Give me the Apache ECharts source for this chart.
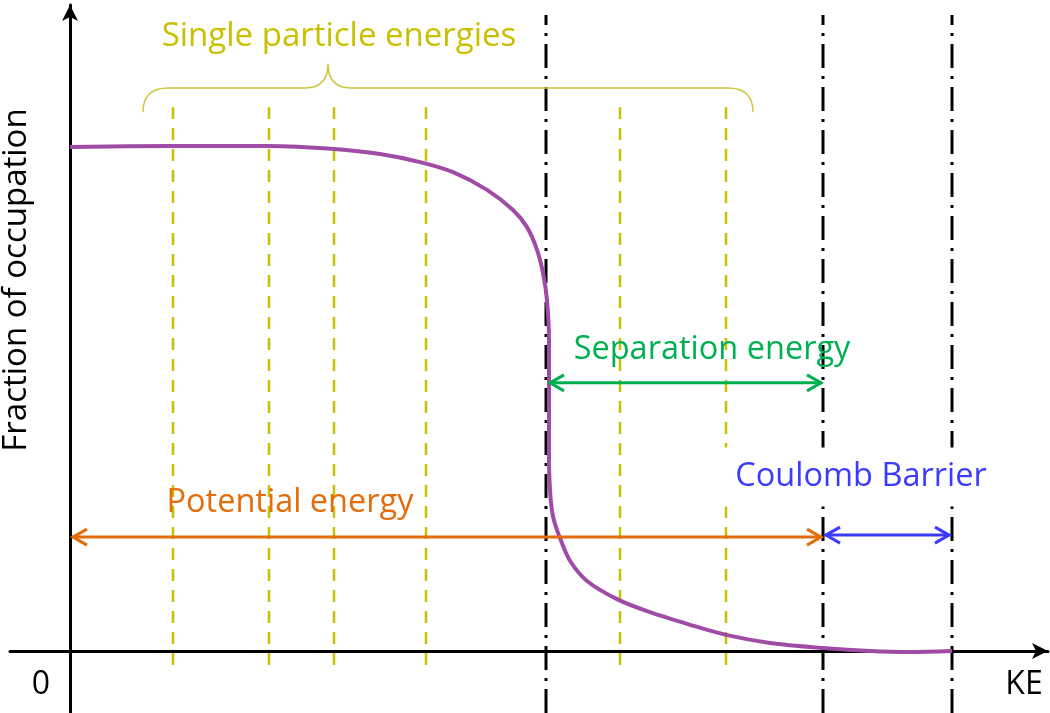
<!DOCTYPE html>
<html>
<head>
<meta charset="utf-8">
<title>Fraction of occupation</title>
<script src="https://cdn.jsdelivr.net/npm/echarts@6/dist/echarts.min.js"></script>
<style>
  html, body { margin: 0; padding: 0; background: #fff; }
  #chart { width: 1050px; height: 713px; }
</style>
</head>
<body>
<div id="chart"></div>
<script>
// occupation curve (KE in arbitrary units, fraction relative to full occupation)
var kePts  = [0, 10.3, 19.9, 26.4, 31, 35, 38.3, 41.7, 44.3, 45.7, 46.7, 47.3, 47.7, 47.9, 47.9, 47.9, 48.0, 48.2, 48.5, 49.0, 50.0, 51.7, 54.7, 58, 62, 65.6, 70, 75.3, 80, 84, 88.2];
var occPts = [1.0, 1.002, 1.002, 0.996, 0.986, 0.970, 0.950, 0.915, 0.875, 0.841, 0.796, 0.750, 0.696, 0.617, 0.498, 0.379, 0.319, 0.278, 0.252, 0.224, 0.179, 0.139, 0.103, 0.077, 0.052, 0.032, 0.016, 0.006, 0, -0.002, 0];

// single particle levels (yellow dashed) and their vertical extent
var spLevels = [10.3, 19.9, 26.4, 35.6, 55.0, 65.6];
var spSpan = [-0.028, 1.079];

// fermi / separation / barrier markers (black dash-dot)
var markLevels = [47.6, 75.3, 88.2];
var markSpan = [-0.123, 1.262];

// double headed arrows
var arrowFrom  = [0.2, 47.9, 75.5];
var arrowTo    = [75.2, 75.2, 88.0];
var arrowAt    = [0.226, 0.532, 0.230];
var arrowColor = ['#e46c0a', '#00b050', '#3b3bff'];

// brace over the single particle levels: left, right, tip, bottom, top, peak
var brace = [7.3, 68.3, 25.8, 1.069, 1.117, 1.165];

var curveData = kePts.map(function (k, i) { return [k, occPts[i]]; });
var spData = spLevels.map(function (k) { return [k, spSpan[0], spSpan[1]]; });
var markData = markLevels.map(function (k) { return [k, markSpan[0], markSpan[1]]; });
var arrowData = arrowFrom.map(function (a, i) { return [a, arrowAt[i], arrowTo[i], i]; });

var FONT = '"Open Sans", "Noto Sans", sans-serif';

function vline(color, dash, width) {
  return function (params, api) {
    var p1 = api.coord([api.value(0), api.value(1)]);
    var p2 = api.coord([api.value(0), api.value(2)]);
    return {
      type: 'line',
      shape: { x1: p1[0], y1: p1[1], x2: p2[0], y2: p2[1] },
      style: { stroke: color, lineWidth: width, lineDash: dash }
    };
  };
}

var chart = echarts.init(document.getElementById('chart'));
chart.setOption({
  animation: false,
  grid: { left: 10, right: 2, top: 5, bottom: 0 },
  xAxis: {
    type: 'value', min: -6, max: 97.8,
    axisLine: { onZero: true, symbol: ['none', 'arrow'], symbolSize: [12, 16], lineStyle: { color: '#000', width: 3 } },
    axisTick: { show: false }, axisLabel: { show: false }, splitLine: { show: false }
  },
  yAxis: {
    type: 'value', min: -0.123, max: 1.2817,
    axisLine: { onZero: true, symbol: ['none', 'arrow'], symbolSize: [12, 16], lineStyle: { color: '#000', width: 3 } },
    axisTick: { show: false }, axisLabel: { show: false }, splitLine: { show: false }
  },
  series: [
    {
      type: 'custom', name: 'levels', z: 2,
      renderItem: vline('#c8c000', [12, 9], 2.5),
      data: spData
    },
    {
      type: 'custom', name: 'markers', z: 2,
      renderItem: vline('#000', [24, 8, 3, 8], 3),
      data: markData
    },
    {
      type: 'line', name: 'occupation', z: 4,
      data: curveData, smooth: 0.3, symbol: 'none',
      lineStyle: { color: '#a04ca6', width: 4 }
    },
    {
      type: 'custom', name: 'arrows', z: 5,
      renderItem: function (params, api) {
        var a = api.coord([api.value(0), api.value(1)]);
        var b = api.coord([api.value(2), api.value(1)]);
        var c = arrowColor[api.value(3)];
        var st = { stroke: c, lineWidth: 3, fill: null };
        return {
          type: 'group',
          children: [
            { type: 'line', shape: { x1: a[0], y1: a[1], x2: b[0], y2: b[1] }, style: st },
            { type: 'polyline', shape: { points: [[a[0] + 15, a[1] - 8], [a[0] + 1, a[1]], [a[0] + 15, a[1] + 8]] }, style: st },
            { type: 'polyline', shape: { points: [[b[0] - 15, b[1] - 8], [b[0] - 1, b[1]], [b[0] - 15, b[1] + 8]] }, style: st }
          ]
        };
      },
      data: arrowData
    },
    {
      type: 'custom', name: 'brace', z: 3,
      renderItem: function (params, api) {
        var l = api.coord([api.value(0), api.value(3)]);
        var r = api.coord([api.value(1), api.value(3)]);
        var t = api.coord([api.value(2), api.value(5)]);
        var yt = api.coord([0, api.value(4)])[1];
        var d = 'M' + l[0] + ',' + l[1] +
          ' Q' + l[0] + ',' + yt + ' ' + (l[0] + 25) + ',' + yt +
          ' L' + (t[0] - 23) + ',' + yt +
          ' Q' + t[0] + ',' + yt + ' ' + t[0] + ',' + t[1] +
          ' Q' + t[0] + ',' + yt + ' ' + (t[0] + 23) + ',' + yt +
          ' L' + (r[0] - 25) + ',' + yt +
          ' Q' + r[0] + ',' + yt + ' ' + r[0] + ',' + r[1];
        return { type: 'path', shape: { pathData: d }, style: { stroke: '#cdc53a', lineWidth: 1.5, fill: null } };
      },
      data: [brace]
    }
  ],
  graphic: [
    { type: 'text', x: 339, y: 37, z: 100, style: { text: 'Single particle energies', fill: '#c8c000', font: '33px ' + FONT, textAlign: 'center', textVerticalAlign: 'middle' } },
    { type: 'text', x: 712, y: 350, z: 100, style: { text: 'Separation energy', fill: '#00b050', font: '32.5px ' + FONT, textAlign: 'center', textVerticalAlign: 'middle' } },
    { type: 'text', x: 290, y: 503, z: 100, style: { text: 'Potential energy', fill: '#e46c0a', font: '32.5px ' + FONT, textAlign: 'center', textVerticalAlign: 'middle' } },
    { type: 'text', x: 860, y: 477, z: 100, style: { text: 'Coulomb Barrier', fill: '#3b3bff', font: '32.5px ' + FONT, textAlign: 'center', textVerticalAlign: 'middle', backgroundColor: '#fff', padding: [15, 10, 11, 12] } },
    { type: 'text', x: 17, y: 280, rotation: Math.PI / 2, z: 100, style: { text: 'Fraction of occupation', fill: '#000', font: '33px ' + FONT, textAlign: 'center', textVerticalAlign: 'middle' } },
    { type: 'text', x: 41, y: 685, z: 100, style: { text: '0', fill: '#000', font: '32px ' + FONT, textAlign: 'center', textVerticalAlign: 'middle' } },
    { type: 'text', x: 1024, y: 685, z: 100, style: { text: 'KE', fill: '#000', font: '32px ' + FONT, textAlign: 'center', textVerticalAlign: 'middle' } }
  ]
});
</script>
</body>
</html>
